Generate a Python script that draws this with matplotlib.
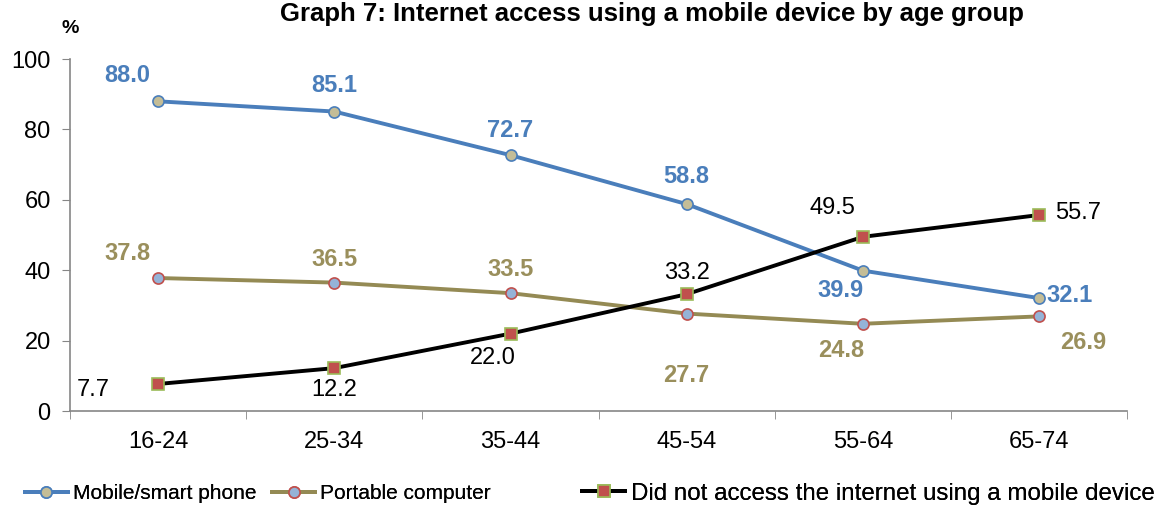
"""Line chart: internet access using a mobile device, by age group."""

import matplotlib.pyplot as plt

plt.rcParams["font.family"] = ["Liberation Sans", "DejaVu Sans"]

# --- Data ---------------------------------------------------------------------
AGE_GROUPS = ["16-24", "25-34", "35-44", "45-54", "55-64", "65-74"]
MOBILE_PHONE = [88.0, 85.1, 72.7, 58.8, 39.9, 32.1]
PORTABLE_COMPUTER = [37.8, 36.5, 33.5, 27.7, 24.8, 26.9]
NO_MOBILE_ACCESS = [7.7, 12.2, 22.0, 33.2, 49.5, 55.7]

# Label offsets (pixels) relative to each point.
MOBILE_OFFSETS = [(-31, 26), (0, 26), (0, 25), (0, 28), (-22, -20), (31, 3)]
PORTABLE_OFFSETS = [(-31, 25), (0, 23), (0, 24), (0, -62), (-22, -27), (44, -26)]
NO_ACCESS_OFFSETS = [(-65, -6), (0, -22), (-18, -24), (0, 21), (-30, 29), (39, 2)]

# Left edge (figure fraction) and font size of each legend entry.
LEGEND_SLOTS = [(0.0214, 15.0), (0.2329, 15.0), (0.4983, 17.4)]
LEGEND_HANDLE_PX = 43

BLUE = "#4A7EBB"
OLIVE = "#948A54"
OLIVE_TEXT = "#9A8F5C"


def draw_series(ax, values, offsets, line_color, label_color, bold, label, **marker):
    x = range(len(values))
    (line,) = ax.plot(x, values, color=line_color, lw=2.8, label=label, zorder=3, **marker)
    for i, (v, off) in enumerate(zip(values, offsets)):
        ax.annotate(
            f"{v:.1f}",
            (i, v),
            xytext=off,
            textcoords="offset pixels",
            ha="center",
            va="center",
            fontsize=17,
            fontweight="bold" if bold else "normal",
            color=label_color,
        )
    return line


def main() -> None:
    fig = plt.figure(figsize=(11.68, 5.05), dpi=100)
    ax = fig.add_axes([0.060, 0.186, 0.905, 0.697])

    lines = [
        draw_series(
            ax, MOBILE_PHONE, MOBILE_OFFSETS, BLUE, BLUE, True, "Mobile/smart phone",
            marker="o", ms=8, mfc="#C4BD97", mec=BLUE, mew=1.2,
        ),
        draw_series(
            ax, PORTABLE_COMPUTER, PORTABLE_OFFSETS, OLIVE, OLIVE_TEXT, True,
            "Portable computer",
            marker="o", ms=8, mfc="#95B3D7", mec="#C0504D", mew=1.2,
        ),
        draw_series(
            ax, NO_MOBILE_ACCESS, NO_ACCESS_OFFSETS, "black", "black", False,
            "Did not access the internet using a mobile device",
            marker="s", ms=8, mfc="#C0504D", mec="#9BBB59", mew=1.2,
        ),
    ]

    ax.set_xlim(-0.5, len(AGE_GROUPS) - 0.5)
    ax.set_ylim(0, 100)
    ax.set_yticks(range(0, 101, 20))
    ax.set_xticks(range(len(AGE_GROUPS)))
    ax.set_xticklabels(AGE_GROUPS)
    ax.set_xticks([i + 0.5 for i in range(-1, len(AGE_GROUPS))], minor=True)
    ax.tick_params(axis="x", which="major", length=0, pad=14, labelsize=17)
    ax.tick_params(axis="x", which="minor", length=6, color="#868686", direction="out")
    ax.tick_params(axis="y", length=6, color="#868686", pad=8, labelsize=17)
    for side in ("top", "right"):
        ax.spines[side].set_visible(False)
    for side in ("left", "bottom"):
        ax.spines[side].set_color("#868686")
        ax.spines[side].set_linewidth(1.2)

    fig.text(0.060, 0.935, "%", fontsize=14, fontweight="bold", ha="center")
    fig.text(0.558, 0.972, "Graph 7: Internet access using a mobile device by age group",
             fontsize=18.5, fontweight="bold", ha="center", va="center")

    # One legend per entry so each can sit at its own spot along the bottom.
    for line, (x0, size) in zip(lines, LEGEND_SLOTS):
        fig.add_artist(fig.legend(
            handles=[line], loc="center left", bbox_to_anchor=(x0, 0.022),
            frameon=False, fontsize=size,
            handlelength=LEGEND_HANDLE_PX / (size * 100 / 72),
            handletextpad=0.25, borderaxespad=0, borderpad=0,
        ))

    fig.savefig("out.png", dpi=100)


if __name__ == "__main__":
    main()
